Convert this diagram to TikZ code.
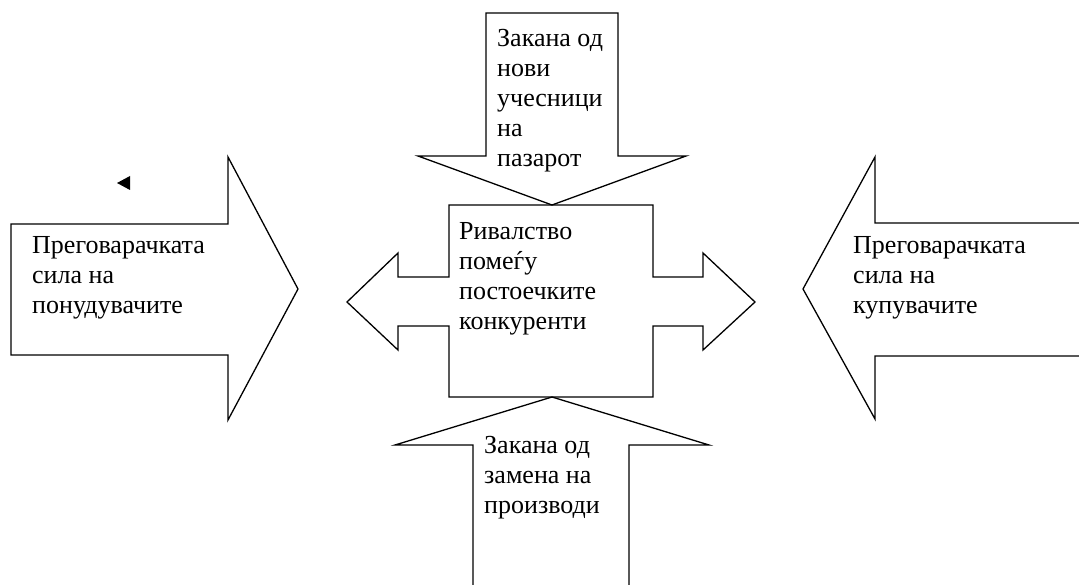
\documentclass[tikz,border=0pt]{standalone}
\usepackage{fontspec}
\setmainfont{Liberation Serif}
\begin{document}
\begin{tikzpicture}[x=1pt,y=-1pt,
  blockarrow/.style={draw=black,line width=1.3pt,line join=miter,fill=white},
  lbl/.style={anchor=base west,align=left,inner sep=0pt,font=\fontsize{26}{30}\selectfont}]
\useasboundingbox (0,0) rectangle (1079,585);
% central box with double arrow
\draw[blockarrow] (449,205) -- (653,205) -- (653,277) -- (703,277) -- (703,253) -- (755,302)
  -- (703,350) -- (703,326) -- (653,326) -- (653,397) -- (449,397) -- (449,326) -- (398,326)
  -- (398,350) -- (347,302) -- (398,253) -- (398,277) -- (449,277) -- cycle;
% top arrow
\draw[blockarrow] (486,13) -- (618,13) -- (618,156) -- (686,156) -- (552,205) -- (418,156) -- (486,156) -- cycle;
% bottom arrow
\draw[blockarrow] (473,592) -- (473,445) -- (395,445) -- (552,397) -- (709,445) -- (629,445) -- (629,592);
% left arrow
\draw[blockarrow] (11,224) -- (228,224) -- (228,157) -- (298,289) -- (228,420) -- (228,355) -- (11,355) -- cycle;
% right arrow
\draw[blockarrow] (1090,223) -- (875,223) -- (875,157) -- (803,289) -- (875,419) -- (875,356) -- (1090,356);
% small triangle
\fill (117,183) -- (130,176) -- (130,190) -- cycle;
% labels (anchor = baseline of the last line)
\node[lbl] (tleft) at (32,314) {Преговарачката\\сила на\\понудувачите};
\node[lbl] (ttop) at (497,167) {Закана од\\нови\\учесници\\на\\пазарот};
\node[lbl] (tmid) at (459,330) {Ривалство\\помеѓу\\постоечките\\конкуренти};
\node[lbl] (tbot) at (484,513) {Закана од\\замена на\\производи};
\node[lbl] (tright) at (853,314) {Преговарачката\\сила на\\купувачите};
\end{tikzpicture}
\end{document}
